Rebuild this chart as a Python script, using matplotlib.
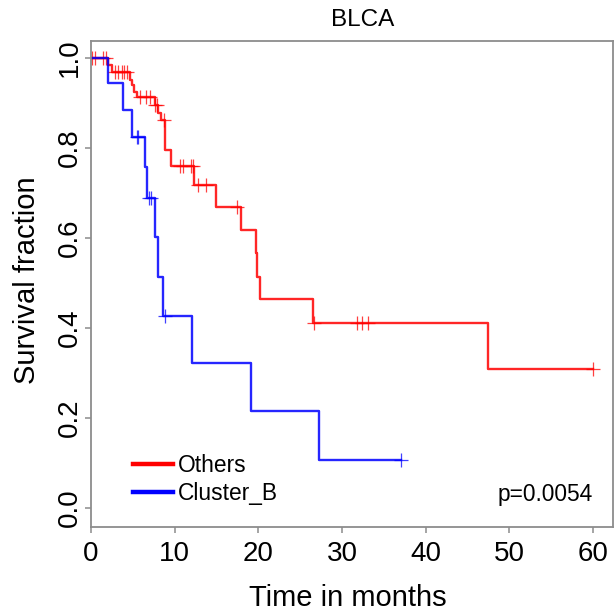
import numpy as np
import matplotlib
matplotlib.use('Agg')
import matplotlib.pyplot as plt

plt.rcParams['font.family'] = ['Liberation Sans', 'DejaVu Sans']

# Kaplan-Meier steps (time in months, survival after the drop)
others_times = [0, 2.07, 2.47, 4.66, 4.86, 5.18, 5.46, 7.65, 8.05, 8.4, 8.9, 9.6,
                12.3, 15.0, 17.9, 19.7, 19.9, 20.2, 26.5, 47.4]
others_surv = [1.0, 0.984, 0.970, 0.951, 0.940, 0.925, 0.913, 0.896, 0.879, 0.862, 0.795, 0.760,
               0.718, 0.670, 0.619, 0.566, 0.514, 0.464, 0.412, 0.309]
others_end = 60.0
others_censor = [0.08, 0.48, 1.43, 1.76, 2.87, 3.27, 3.67, 3.98, 4.26, 5.8, 6.6, 7.0,
                 7.7, 7.85, 8.76, 10.6, 10.96, 12.0, 12.2, 12.8, 13.8, 17.5, 26.65,
                 31.75, 32.35, 33.1, 60.0]

clusterb_times = [0, 2.0, 3.82, 4.9, 6.45, 6.7, 7.7, 8.0, 8.6, 12.1, 19.1, 27.3]
clusterb_surv = [1.0, 0.944, 0.884, 0.824, 0.758, 0.689, 0.602, 0.514, 0.428, 0.322, 0.216, 0.107]
clusterb_end = 37.0
clusterb_censor = [5.5, 5.6, 6.9, 7.2, 8.85, 37.0]

x_ticks = [0, 10, 20, 30, 40, 50, 60]
y_ticks = [0.0, 0.2, 0.4, 0.6, 0.8, 1.0]
p_text = 'p=0.0054'

W, H = 616, 613
fig = plt.figure(figsize=(W / 100, H / 100), dpi=100)
ax = fig.add_axes([91 / W, 1 - 527 / H, (613 - 91) / W, (527 - 41) / H])


def draw_curve(times, surv, end, censor, color, label):
    t = np.array(times + [end])
    s = np.array(surv + [surv[-1]])
    ax.step(t, s, where='post', color=color, lw=1.7, alpha=0.85, label=label)
    # censor marks sit on the curve at their time
    idx = np.searchsorted(np.array(times), np.array(censor), side='right') - 1
    ax.plot(censor, np.array(surv)[idx], ls='none', marker='+', ms=9.5,
            mew=0.9, color=color, alpha=0.75)


draw_curve(others_times, others_surv, others_end, others_censor, 'red', 'Others')
draw_curve(clusterb_times, clusterb_surv, clusterb_end, clusterb_censor, 'blue', 'Cluster_B')

ax.set_xlim(0, 62.4)
ax.set_ylim(-0.042, 1.038)
ax.set_xticks(x_ticks)
ax.set_yticks(y_ticks)
ax.set_yticklabels([f'{v:.1f}' for v in y_ticks], rotation=90, va='center')
for sp in ax.spines.values():
    sp.set_color('#8c8c8c')
    sp.set_linewidth(1.3)
ax.tick_params(axis='both', color='#8c8c8c', length=4, width=1.1, labelsize=20)
ax.tick_params(axis='x', pad=6)
ax.tick_params(axis='y', pad=2)

leg = ax.legend(loc='center left', bbox_to_anchor=(132.7 / W, 1 - 479.5 / H),
                bbox_transform=fig.transFigure, frameon=False, fontsize=16.4,
                handlelength=1.77, handletextpad=0.2, labelspacing=0.2,
                borderpad=0, borderaxespad=0)
for line in leg.get_lines():
    line.set_linewidth(3.2)
    line.set_alpha(1)

fig.text(593 / W, 1 - 494 / H, p_text, ha='right', va='center', fontsize=16.4)
fig.text(362.5 / W, 1 - 20 / H, 'BLCA', ha='center', va='center', fontsize=17.5)
fig.text(347.5 / W, 1 - 598 / H, 'Time in months', ha='center', va='center', fontsize=21)
fig.text(27 / W, 1 - 280 / H, 'Survival fraction', ha='center', va='center',
         rotation=90, fontsize=21)

fig.savefig('out.png', dpi=100)
